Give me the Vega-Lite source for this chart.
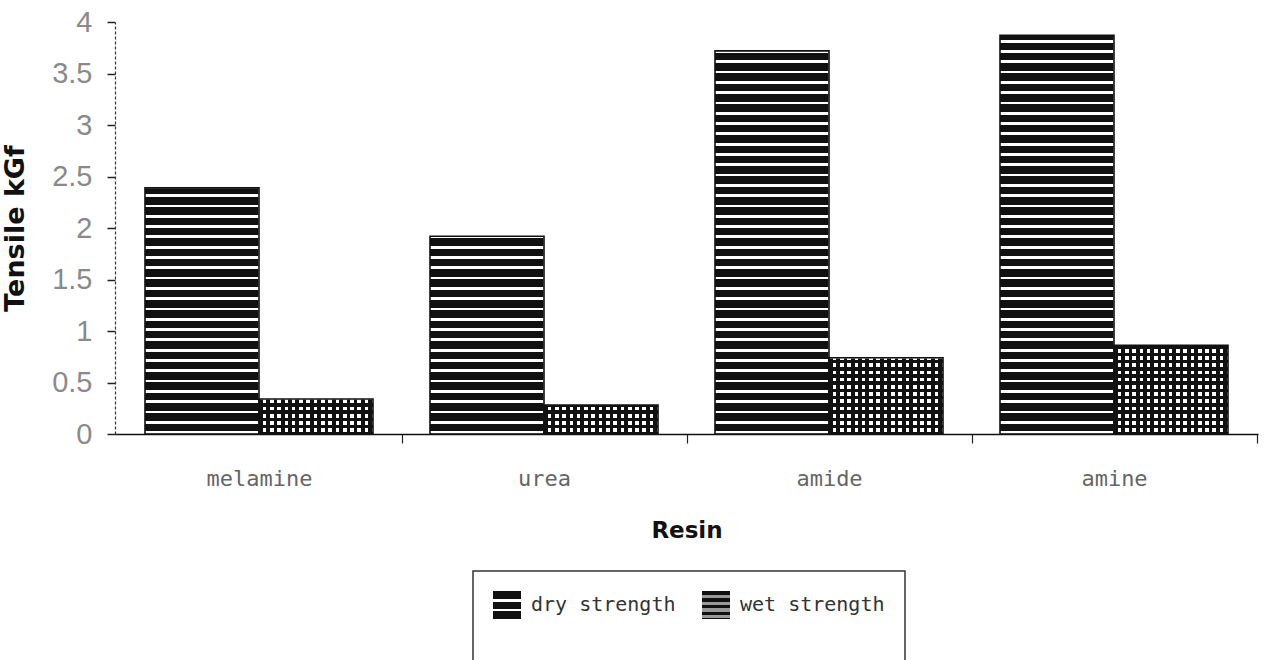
{
  "$schema": "https://vega.github.io/schema/vega-lite/v6.json",
  "width": 1143,
  "height": 412,
  "autosize": {"type": "none"},
  "padding": {"left": 115, "top": 22, "right": 7, "bottom": 226},
  "background": "white",
  "data": {
    "values": [
      {"resin": "melamine", "type": "dry strength", "value": 2.39},
      {"resin": "melamine", "type": "wet strength", "value": 0.34},
      {"resin": "urea", "type": "dry strength", "value": 1.92},
      {"resin": "urea", "type": "wet strength", "value": 0.28},
      {"resin": "amide", "type": "dry strength", "value": 3.72},
      {"resin": "amide", "type": "wet strength", "value": 0.74},
      {"resin": "amine", "type": "dry strength", "value": 3.87},
      {"resin": "amine", "type": "wet strength", "value": 0.86}
    ]
  },
  "encoding": {
    "x": {
      "field": "resin",
      "type": "nominal",
      "sort": ["melamine", "urea", "amide", "amine"],
      "scale": {"paddingInner": 0.2, "paddingOuter": 0.1, "round": true},
      "title": "Resin",
      "axis": {
        "labelAngle": 0,
        "domainColor": "#111",
        "domainWidth": 1.6,
        "tickColor": "#222",
        "tickWidth": 1.2,
        "tickSize": 9,
        "bandPosition": 1,
        "tickOffset": 28.5,
        "labelOffset": -28.5,
        "labelFont": "DejaVu Sans Mono",
        "labelFontSize": 22,
        "labelColor": "#666",
        "labelPadding": 25,
        "titleFont": "DejaVu Sans",
        "titleFontWeight": "bold",
        "titleFontSize": 23,
        "titleColor": "#111",
        "titlePadding": 30,
        "zindex": 1
      }
    },
    "xOffset": {
      "field": "type",
      "type": "nominal",
      "scale": {"domain": ["dry strength", "wet strength"], "paddingInner": 0, "paddingOuter": 0, "round": true}
    }
  },
  "layer": [
    {
      "transform": [{"filter": "datum.type === 'dry strength'"}],
      "mark": {
        "type": "bar",
        "strokeWidth": 0,
        "fill": {
          "gradient": "linear", "x1": 0, "y1": 0, "x2": 0, "y2": 1,
          "stops": [
            {"offset": 0, "color": "#111"}, {"offset": 0.018, "color": "#111"}, {"offset": 0.018, "color": "#fff"}, {"offset": 0.025, "color": "#fff"},
            {"offset": 0.025, "color": "#111"}, {"offset": 0.043, "color": "#111"}, {"offset": 0.043, "color": "#fff"}, {"offset": 0.05, "color": "#fff"},
            {"offset": 0.05, "color": "#111"}, {"offset": 0.068, "color": "#111"}, {"offset": 0.068, "color": "#fff"}, {"offset": 0.075, "color": "#fff"},
            {"offset": 0.075, "color": "#111"}, {"offset": 0.093, "color": "#111"}, {"offset": 0.093, "color": "#fff"}, {"offset": 0.1, "color": "#fff"},
            {"offset": 0.1, "color": "#111"}, {"offset": 0.118, "color": "#111"}, {"offset": 0.118, "color": "#fff"}, {"offset": 0.125, "color": "#fff"},
            {"offset": 0.125, "color": "#111"}, {"offset": 0.143, "color": "#111"}, {"offset": 0.143, "color": "#fff"}, {"offset": 0.15, "color": "#fff"},
            {"offset": 0.15, "color": "#111"}, {"offset": 0.168, "color": "#111"}, {"offset": 0.168, "color": "#fff"}, {"offset": 0.175, "color": "#fff"},
            {"offset": 0.175, "color": "#111"}, {"offset": 0.193, "color": "#111"}, {"offset": 0.193, "color": "#fff"}, {"offset": 0.2, "color": "#fff"},
            {"offset": 0.2, "color": "#111"}, {"offset": 0.218, "color": "#111"}, {"offset": 0.218, "color": "#fff"}, {"offset": 0.225, "color": "#fff"},
            {"offset": 0.225, "color": "#111"}, {"offset": 0.243, "color": "#111"}, {"offset": 0.243, "color": "#fff"}, {"offset": 0.25, "color": "#fff"},
            {"offset": 0.25, "color": "#111"}, {"offset": 0.268, "color": "#111"}, {"offset": 0.268, "color": "#fff"}, {"offset": 0.275, "color": "#fff"},
            {"offset": 0.275, "color": "#111"}, {"offset": 0.293, "color": "#111"}, {"offset": 0.293, "color": "#fff"}, {"offset": 0.3, "color": "#fff"},
            {"offset": 0.3, "color": "#111"}, {"offset": 0.318, "color": "#111"}, {"offset": 0.318, "color": "#fff"}, {"offset": 0.325, "color": "#fff"},
            {"offset": 0.325, "color": "#111"}, {"offset": 0.343, "color": "#111"}, {"offset": 0.343, "color": "#fff"}, {"offset": 0.35, "color": "#fff"},
            {"offset": 0.35, "color": "#111"}, {"offset": 0.368, "color": "#111"}, {"offset": 0.368, "color": "#fff"}, {"offset": 0.375, "color": "#fff"},
            {"offset": 0.375, "color": "#111"}, {"offset": 0.393, "color": "#111"}, {"offset": 0.393, "color": "#fff"}, {"offset": 0.4, "color": "#fff"},
            {"offset": 0.4, "color": "#111"}, {"offset": 0.418, "color": "#111"}, {"offset": 0.418, "color": "#fff"}, {"offset": 0.425, "color": "#fff"},
            {"offset": 0.425, "color": "#111"}, {"offset": 0.443, "color": "#111"}, {"offset": 0.443, "color": "#fff"}, {"offset": 0.45, "color": "#fff"},
            {"offset": 0.45, "color": "#111"}, {"offset": 0.468, "color": "#111"}, {"offset": 0.468, "color": "#fff"}, {"offset": 0.475, "color": "#fff"},
            {"offset": 0.475, "color": "#111"}, {"offset": 0.493, "color": "#111"}, {"offset": 0.493, "color": "#fff"}, {"offset": 0.5, "color": "#fff"},
            {"offset": 0.5, "color": "#111"}, {"offset": 0.518, "color": "#111"}, {"offset": 0.518, "color": "#fff"}, {"offset": 0.525, "color": "#fff"},
            {"offset": 0.525, "color": "#111"}, {"offset": 0.543, "color": "#111"}, {"offset": 0.543, "color": "#fff"}, {"offset": 0.55, "color": "#fff"},
            {"offset": 0.55, "color": "#111"}, {"offset": 0.568, "color": "#111"}, {"offset": 0.568, "color": "#fff"}, {"offset": 0.575, "color": "#fff"},
            {"offset": 0.575, "color": "#111"}, {"offset": 0.593, "color": "#111"}, {"offset": 0.593, "color": "#fff"}, {"offset": 0.6, "color": "#fff"},
            {"offset": 0.6, "color": "#111"}, {"offset": 0.618, "color": "#111"}, {"offset": 0.618, "color": "#fff"}, {"offset": 0.625, "color": "#fff"},
            {"offset": 0.625, "color": "#111"}, {"offset": 0.643, "color": "#111"}, {"offset": 0.643, "color": "#fff"}, {"offset": 0.65, "color": "#fff"},
            {"offset": 0.65, "color": "#111"}, {"offset": 0.668, "color": "#111"}, {"offset": 0.668, "color": "#fff"}, {"offset": 0.675, "color": "#fff"},
            {"offset": 0.675, "color": "#111"}, {"offset": 0.693, "color": "#111"}, {"offset": 0.693, "color": "#fff"}, {"offset": 0.7, "color": "#fff"},
            {"offset": 0.7, "color": "#111"}, {"offset": 0.718, "color": "#111"}, {"offset": 0.718, "color": "#fff"}, {"offset": 0.725, "color": "#fff"},
            {"offset": 0.725, "color": "#111"}, {"offset": 0.743, "color": "#111"}, {"offset": 0.743, "color": "#fff"}, {"offset": 0.75, "color": "#fff"},
            {"offset": 0.75, "color": "#111"}, {"offset": 0.768, "color": "#111"}, {"offset": 0.768, "color": "#fff"}, {"offset": 0.775, "color": "#fff"},
            {"offset": 0.775, "color": "#111"}, {"offset": 0.793, "color": "#111"}, {"offset": 0.793, "color": "#fff"}, {"offset": 0.8, "color": "#fff"},
            {"offset": 0.8, "color": "#111"}, {"offset": 0.818, "color": "#111"}, {"offset": 0.818, "color": "#fff"}, {"offset": 0.825, "color": "#fff"},
            {"offset": 0.825, "color": "#111"}, {"offset": 0.843, "color": "#111"}, {"offset": 0.843, "color": "#fff"}, {"offset": 0.85, "color": "#fff"},
            {"offset": 0.85, "color": "#111"}, {"offset": 0.868, "color": "#111"}, {"offset": 0.868, "color": "#fff"}, {"offset": 0.875, "color": "#fff"},
            {"offset": 0.875, "color": "#111"}, {"offset": 0.893, "color": "#111"}, {"offset": 0.893, "color": "#fff"}, {"offset": 0.9, "color": "#fff"},
            {"offset": 0.9, "color": "#111"}, {"offset": 0.918, "color": "#111"}, {"offset": 0.918, "color": "#fff"}, {"offset": 0.925, "color": "#fff"},
            {"offset": 0.925, "color": "#111"}, {"offset": 0.943, "color": "#111"}, {"offset": 0.943, "color": "#fff"}, {"offset": 0.95, "color": "#fff"},
            {"offset": 0.95, "color": "#111"}, {"offset": 0.968, "color": "#111"}, {"offset": 0.968, "color": "#fff"}, {"offset": 0.975, "color": "#fff"},
            {"offset": 0.975, "color": "#111"}, {"offset": 0.993, "color": "#111"}, {"offset": 0.993, "color": "#fff"}, {"offset": 1, "color": "#fff"}
          ]
        }
      },
      "encoding": {
        "y": {
          "datum": 4,
          "type": "quantitative",
          "scale": {"domain": [0, 4], "nice": false},
          "title": "Tensile kGf",
          "axis": {
            "values": [0, 0.5, 1, 1.5, 2, 2.5, 3, 3.5, 4],
            "format": "~g",
            "grid": false,
            "domainColor": "#333",
            "domainWidth": 1.2,
            "domainDash": [3, 2],
            "tickColor": "#222",
            "tickWidth": 1.5,
            "tickSize": 8,
            "labelFont": "Liberation Sans",
            "labelFontSize": 29,
            "labelColor": "#8a8a8a",
            "labelPadding": 15,
            "titleFont": "DejaVu Sans",
            "titleFontWeight": "bold",
            "titleFontSize": 27,
            "titleColor": "#111",
            "titlePadding": 22
          }
        },
        "y2": {"datum": 0}
      }
    },
    {
      "transform": [{"filter": "datum.type === 'wet strength'"}],
      "mark": {
        "type": "bar",
        "strokeWidth": 0,
        "fill": {
          "gradient": "linear", "x1": 0, "y1": 0, "x2": 0, "y2": 1,
          "stops": [
            {"offset": 0, "color": "#111"}, {"offset": 0.035, "color": "#111"},
            {"offset": 0.035, "color": "#fff"}, {"offset": 0.07, "color": "#fff"},
            {"offset": 0.07, "color": "#111"}, {"offset": 0.105, "color": "#111"},
            {"offset": 0.105, "color": "#fff"}, {"offset": 0.14, "color": "#fff"},
            {"offset": 0.14, "color": "#111"}, {"offset": 0.175, "color": "#111"},
            {"offset": 0.175, "color": "#fff"}, {"offset": 0.21, "color": "#fff"},
            {"offset": 0.21, "color": "#111"}, {"offset": 0.245, "color": "#111"},
            {"offset": 0.245, "color": "#fff"}, {"offset": 0.28, "color": "#fff"},
            {"offset": 0.28, "color": "#111"}, {"offset": 0.315, "color": "#111"},
            {"offset": 0.315, "color": "#fff"}, {"offset": 0.35, "color": "#fff"},
            {"offset": 0.35, "color": "#111"}, {"offset": 0.385, "color": "#111"},
            {"offset": 0.385, "color": "#fff"}, {"offset": 0.42, "color": "#fff"},
            {"offset": 0.42, "color": "#111"}, {"offset": 0.455, "color": "#111"},
            {"offset": 0.455, "color": "#fff"}, {"offset": 0.49, "color": "#fff"},
            {"offset": 0.49, "color": "#111"}, {"offset": 0.525, "color": "#111"},
            {"offset": 0.525, "color": "#fff"}, {"offset": 0.56, "color": "#fff"},
            {"offset": 0.56, "color": "#111"}, {"offset": 0.595, "color": "#111"},
            {"offset": 0.595, "color": "#fff"}, {"offset": 0.63, "color": "#fff"},
            {"offset": 0.63, "color": "#111"}, {"offset": 0.665, "color": "#111"},
            {"offset": 0.665, "color": "#fff"}, {"offset": 0.7, "color": "#fff"},
            {"offset": 0.7, "color": "#111"}, {"offset": 0.735, "color": "#111"},
            {"offset": 0.735, "color": "#fff"}, {"offset": 0.77, "color": "#fff"},
            {"offset": 0.77, "color": "#111"}, {"offset": 0.805, "color": "#111"},
            {"offset": 0.805, "color": "#fff"}, {"offset": 0.84, "color": "#fff"},
            {"offset": 0.84, "color": "#111"}, {"offset": 0.875, "color": "#111"},
            {"offset": 0.875, "color": "#fff"}, {"offset": 0.91, "color": "#fff"},
            {"offset": 0.91, "color": "#111"}, {"offset": 0.945, "color": "#111"},
            {"offset": 0.945, "color": "#fff"}, {"offset": 0.98, "color": "#fff"},
            {"offset": 0.98, "color": "#111"}, {"offset": 1, "color": "#111"}
          ]
        }
      },
      "encoding": {
        "y": {"datum": 1, "type": "quantitative", "title": "Tensile kGf"},
        "y2": {"datum": 0}
      }
    },
    {
      "transform": [{"filter": "datum.type === 'wet strength'"}],
      "mark": {
        "type": "bar",
        "strokeWidth": 0,
        "fill": {
          "gradient": "linear", "x1": 0, "y1": 0, "x2": 1, "y2": 0,
          "stops": [
            {"offset": 0, "color": "#111"}, {"offset": 0.032, "color": "#111"},
            {"offset": 0.032, "color": "rgba(17,17,17,0)"}, {"offset": 0.064, "color": "rgba(17,17,17,0)"},
            {"offset": 0.064, "color": "#111"}, {"offset": 0.096, "color": "#111"},
            {"offset": 0.096, "color": "rgba(17,17,17,0)"}, {"offset": 0.128, "color": "rgba(17,17,17,0)"},
            {"offset": 0.128, "color": "#111"}, {"offset": 0.16, "color": "#111"},
            {"offset": 0.16, "color": "rgba(17,17,17,0)"}, {"offset": 0.192, "color": "rgba(17,17,17,0)"},
            {"offset": 0.192, "color": "#111"}, {"offset": 0.224, "color": "#111"},
            {"offset": 0.224, "color": "rgba(17,17,17,0)"}, {"offset": 0.256, "color": "rgba(17,17,17,0)"},
            {"offset": 0.256, "color": "#111"}, {"offset": 0.288, "color": "#111"},
            {"offset": 0.288, "color": "rgba(17,17,17,0)"}, {"offset": 0.32, "color": "rgba(17,17,17,0)"},
            {"offset": 0.32, "color": "#111"}, {"offset": 0.352, "color": "#111"},
            {"offset": 0.352, "color": "rgba(17,17,17,0)"}, {"offset": 0.384, "color": "rgba(17,17,17,0)"},
            {"offset": 0.384, "color": "#111"}, {"offset": 0.416, "color": "#111"},
            {"offset": 0.416, "color": "rgba(17,17,17,0)"}, {"offset": 0.448, "color": "rgba(17,17,17,0)"},
            {"offset": 0.448, "color": "#111"}, {"offset": 0.48, "color": "#111"},
            {"offset": 0.48, "color": "rgba(17,17,17,0)"}, {"offset": 0.512, "color": "rgba(17,17,17,0)"},
            {"offset": 0.512, "color": "#111"}, {"offset": 0.544, "color": "#111"},
            {"offset": 0.544, "color": "rgba(17,17,17,0)"}, {"offset": 0.576, "color": "rgba(17,17,17,0)"},
            {"offset": 0.576, "color": "#111"}, {"offset": 0.608, "color": "#111"},
            {"offset": 0.608, "color": "rgba(17,17,17,0)"}, {"offset": 0.64, "color": "rgba(17,17,17,0)"},
            {"offset": 0.64, "color": "#111"}, {"offset": 0.672, "color": "#111"},
            {"offset": 0.672, "color": "rgba(17,17,17,0)"}, {"offset": 0.704, "color": "rgba(17,17,17,0)"},
            {"offset": 0.704, "color": "#111"}, {"offset": 0.736, "color": "#111"},
            {"offset": 0.736, "color": "rgba(17,17,17,0)"}, {"offset": 0.768, "color": "rgba(17,17,17,0)"},
            {"offset": 0.768, "color": "#111"}, {"offset": 0.8, "color": "#111"},
            {"offset": 0.8, "color": "rgba(17,17,17,0)"}, {"offset": 0.832, "color": "rgba(17,17,17,0)"},
            {"offset": 0.832, "color": "#111"}, {"offset": 0.864, "color": "#111"},
            {"offset": 0.864, "color": "rgba(17,17,17,0)"}, {"offset": 0.896, "color": "rgba(17,17,17,0)"},
            {"offset": 0.896, "color": "#111"}, {"offset": 0.928, "color": "#111"},
            {"offset": 0.928, "color": "rgba(17,17,17,0)"}, {"offset": 0.96, "color": "rgba(17,17,17,0)"},
            {"offset": 0.96, "color": "#111"}, {"offset": 0.992, "color": "#111"},
            {"offset": 0.992, "color": "rgba(17,17,17,0)"}, {"offset": 1, "color": "rgba(17,17,17,0)"}
          ]
        }
      },
      "encoding": {
        "y": {"datum": 1, "type": "quantitative", "title": "Tensile kGf"},
        "y2": {"datum": 0}
      }
    },
    {
      "mark": {"type": "bar", "fill": "white", "stroke": "white", "strokeWidth": 1.2},
      "encoding": {
        "y": {"field": "value", "type": "quantitative", "stack": null, "title": "Tensile kGf"},
        "y2": {"datum": 4}
      }
    },
    {
      "mark": {"type": "bar", "fill": "transparent", "stroke": "#111", "strokeWidth": 1.6},
      "encoding": {
        "y": {"field": "value", "type": "quantitative", "stack": null, "title": "Tensile kGf"}
      }
    },
    {
      "mark": {"type": "bar", "strokeWidth": 0},
      "encoding": {
        "y": {"datum": 0, "type": "quantitative", "title": "Tensile kGf"},
        "y2": {"datum": 0},
        "fill": {
          "field": "type",
          "type": "nominal",
          "scale": {
            "domain": ["dry strength", "wet strength"],
            "range": [
              {"expr": "{gradient: 'linear', x1: 0, y1: 0, x2: 0, y2: 1, stops: [{offset: 0, color: '#111'}, {offset: 0.3, color: '#111'}, {offset: 0.3, color: '#fff'}, {offset: 0.38, color: '#fff'}, {offset: 0.38, color: '#111'}, {offset: 0.64, color: '#111'}, {offset: 0.64, color: '#fff'}, {offset: 0.72, color: '#fff'}, {offset: 0.72, color: '#111'}, {offset: 1, color: '#111'}]}"},
              {"expr": "{gradient: 'linear', x1: 0, y1: 0, x2: 0, y2: 1, stops: [{offset: 0, color: '#111'}, {offset: 0.14, color: '#111'}, {offset: 0.14, color: '#999'}, {offset: 0.26, color: '#999'}, {offset: 0.26, color: '#111'}, {offset: 0.38, color: '#111'}, {offset: 0.38, color: '#999'}, {offset: 0.5, color: '#999'}, {offset: 0.5, color: '#111'}, {offset: 0.62, color: '#111'}, {offset: 0.62, color: '#999'}, {offset: 0.74, color: '#999'}, {offset: 0.74, color: '#111'}, {offset: 0.86, color: '#111'}, {offset: 0.86, color: '#999'}, {offset: 0.95, color: '#999'}, {offset: 0.95, color: '#111'}, {offset: 1, color: '#111'}]}"}
            ]
          },
          "legend": {
            "orient": "none",
            "legendX": 358,
            "legendY": 549,
            "direction": "horizontal",
            "title": " ",
            "titleOrient": "bottom",
            "titleFontSize": 26,
            "titlePadding": 4,
            "padding": 20,
            "strokeColor": "#333",
            "symbolType": "square",
            "symbolSize": 784,
            "symbolStrokeWidth": 0,
            "symbolOpacity": 1,
            "labelFont": "DejaVu Sans Mono",
            "labelFontSize": 20,
            "labelColor": "#333",
            "labelOffset": 10,
            "labelLimit": 300,
            "columnPadding": 26
          }
        }
      }
    }
  ],
  "config": {
    "view": {"stroke": null},
    "axis": {"grid": false},
    "legend": {"strokeWidth": 1.5}
  }
}
